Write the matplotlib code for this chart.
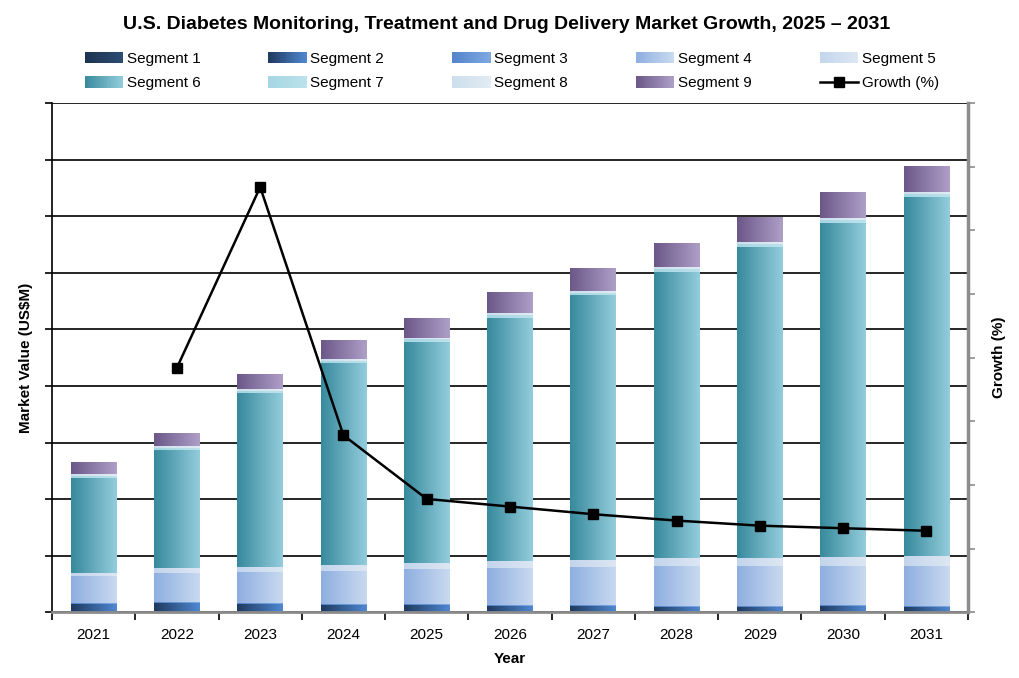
import numpy as np
import matplotlib
matplotlib.use('Agg')
import matplotlib.pyplot as plt
from matplotlib.colors import LinearSegmentedColormap
from matplotlib.legend_handler import HandlerBase
from matplotlib.patches import Rectangle, Patch
from matplotlib.lines import Line2D

plt.rcParams['font.family'] = ['Liberation Sans', 'DejaVu Sans']

# ── Data ──────────────────────────────────────────────────────────────────────
years = ['2021', '2022', '2023', '2024', '2025', '2026',
         '2027', '2028', '2029', '2030', '2031']

seg1 = [0.9, 0.9, 0.9, 0.9, 0.9, 0.9, 0.9, 0.9, 0.9, 0.9, 0.9]
seg2 = [14.1, 15.0, 13.3, 11.5, 11.5, 10.6, 9.7, 8.8, 8.8, 9.7, 8.5]
seg3 = [1.8, 1.8, 1.8, 2.7, 1.8, 1.8, 1.8, 1.8, 1.8, 1.8, 1.8]
seg4 = [47.7, 51.2, 55.8, 58.3, 61.8, 65.4, 67.7, 70.7, 69.8, 68.9, 70.7]
seg5 = [5.3, 8.8, 8.3, 10.6, 10.6, 11.1, 11.8, 13.6, 15.0, 16.4, 17.7]
seg6 = [167.9, 208.5, 306.6, 356.9, 391.4, 430.6, 468.3, 505.4, 548.8, 590.2, 634.4]
seg7 = [3.5, 3.5, 4.4, 3.5, 4.1, 4.4, 4.8, 4.8, 5.3, 5.8, 4.8]
seg8 = [3.5, 3.5, 3.5, 3.5, 3.5, 3.5, 3.5, 3.5, 3.5, 3.5, 3.5]
seg9 = [21.2, 22.1, 26.5, 32.3, 35.3, 37.1, 39.4, 42.4, 43.6, 44.7, 45.9]

growth_years = years[1:]
growth = [19.2, 33.4, 13.9, 8.9, 8.3, 7.7, 7.2, 6.8, 6.6, 6.4]

segments = [seg1, seg2, seg3, seg4, seg5, seg6, seg7, seg8, seg9]
seg_names = [f'Segment {i}' for i in range(1, 10)]

# left -> right gradient colours for each segment
seg_colors = [
    ('#1C3350', '#2C4D72'),
    ('#1E3A5E', '#5088D2'),
    ('#5383CA', '#7FA8E2'),
    ('#8EAEE0', '#C9DAF0'),
    ('#C3D5EC', '#DDE7F3'),
    ('#37899C', '#93CDDD'),
    ('#A4D6E2', '#BCE2EC'),
    ('#CCDFEC', '#E2EBF3'),
    ('#6B5788', '#AE9FC8'),
]
cmaps = [LinearSegmentedColormap.from_list(f'g{i}', [c0, c1])
         for i, (c0, c1) in enumerate(seg_colors)]
grad = np.linspace(0, 1, 256).reshape(1, -1)


class GradientHandler(HandlerBase):
    def __init__(self, cmap):
        super().__init__()
        self.cmap = cmap

    def create_artists(self, legend, orig_handle, xdescent, ydescent,
                       width, height, fontsize, trans):
        n = 20
        arts = []
        for k in range(n):
            r = Rectangle((-xdescent + width * k / n, -ydescent),
                          width / n + 0.3, height,
                          facecolor=self.cmap((k + 0.5) / n),
                          edgecolor='none', transform=trans)
            arts.append(r)
        return arts


# ── Plot ──────────────────────────────────────────────────────────────────────
fig = plt.figure(figsize=(10.19, 6.78), dpi=100)
ax = fig.add_axes([0.051, 0.097, 0.899, 0.751])

x = np.arange(len(years))
bar_w = 0.55
bottom = np.zeros(len(years))
for vals, cm in zip(segments, cmaps):
    for i, v in enumerate(vals):
        ax.imshow(grad, cmap=cm, aspect='auto', interpolation='bilinear',
                  extent=[x[i] - bar_w / 2, x[i] + bar_w / 2,
                          bottom[i], bottom[i] + v], zorder=2)
    bottom += np.array(vals)

ax.set_xlim(-0.5, len(years) - 0.5)
ax.set_ylim(0, 900)
ax.set_yticks(np.arange(0, 901, 100))
ax.set_yticklabels([])
ax.grid(axis='y', color='black', linewidth=1.2, zorder=1)
ax.set_axisbelow(True)
ax.set_xticks(x)
ax.set_xticklabels(years, fontsize=11)
ax.set_xticks(np.arange(-0.5, len(years), 1), minor=True)
ax.tick_params(axis='x', which='major', length=0, pad=11)
ax.tick_params(axis='x', which='minor', length=6, width=1.2, color='black')
ax.tick_params(axis='y', length=5, width=1.2, color='black')
ax.spines['top'].set_visible(False)
ax.spines['right'].set_visible(False)
ax.spines['left'].set_linewidth(1.2)
ax.spines['bottom'].set_color('#8c8c8c')
ax.spines['bottom'].set_linewidth(2)
ax.set_ylabel('Market Value (US$M)', fontsize=11, fontweight='bold', labelpad=5)
ax.set_xlabel('Year', fontsize=11, fontweight='bold', labelpad=7.5)

ax2 = ax.twinx()
ax2.plot([years.index(y) for y in growth_years], growth,
         color='black', linewidth=1.8, marker='s', markersize=7, zorder=5)
ax2.set_ylim(0, 40)
ax2.set_yticks(np.arange(0, 41, 5))
ax2.set_yticklabels([])
ax2.tick_params(axis='y', length=5, width=1.2, color='#8c8c8c')
for s in ['top', 'left', 'bottom']:
    ax2.spines[s].set_visible(False)
ax2.spines['right'].set_color('#8c8c8c')
ax2.spines['right'].set_linewidth(2.5)
ax2.set_ylabel('Growth (%)', fontsize=11, fontweight='bold', labelpad=9)

# ── Legend (row-major order, 2 rows x 5 cols) ─────────────────────────────────
handles = [Patch(label=n) for n in seg_names]
hmap = {h: GradientHandler(cm) for h, cm in zip(handles, cmaps)}
line_h = Line2D([], [], color='black', marker='s', markersize=7,
                linewidth=1.8, label='Growth (%)')
handles.append(line_h)
order = [0, 5, 1, 6, 2, 7, 3, 8, 4, 9]
fig.legend(handles=[handles[k] for k in order], handler_map=hmap, ncol=5,
           frameon=False, loc='upper left', bbox_to_anchor=(0.0696, 0.944),
           fontsize=11, handlelength=2.49, handleheight=0.8,
           columnspacing=4.45, handletextpad=0.26, labelspacing=0.68)

fig.suptitle('U.S. Diabetes Monitoring, Treatment and Drug Delivery Market Growth, 2025 \u2013 2031',
             x=0.497, y=0.977, fontsize=14, fontweight='bold')

plt.savefig('out.png', dpi=100)
